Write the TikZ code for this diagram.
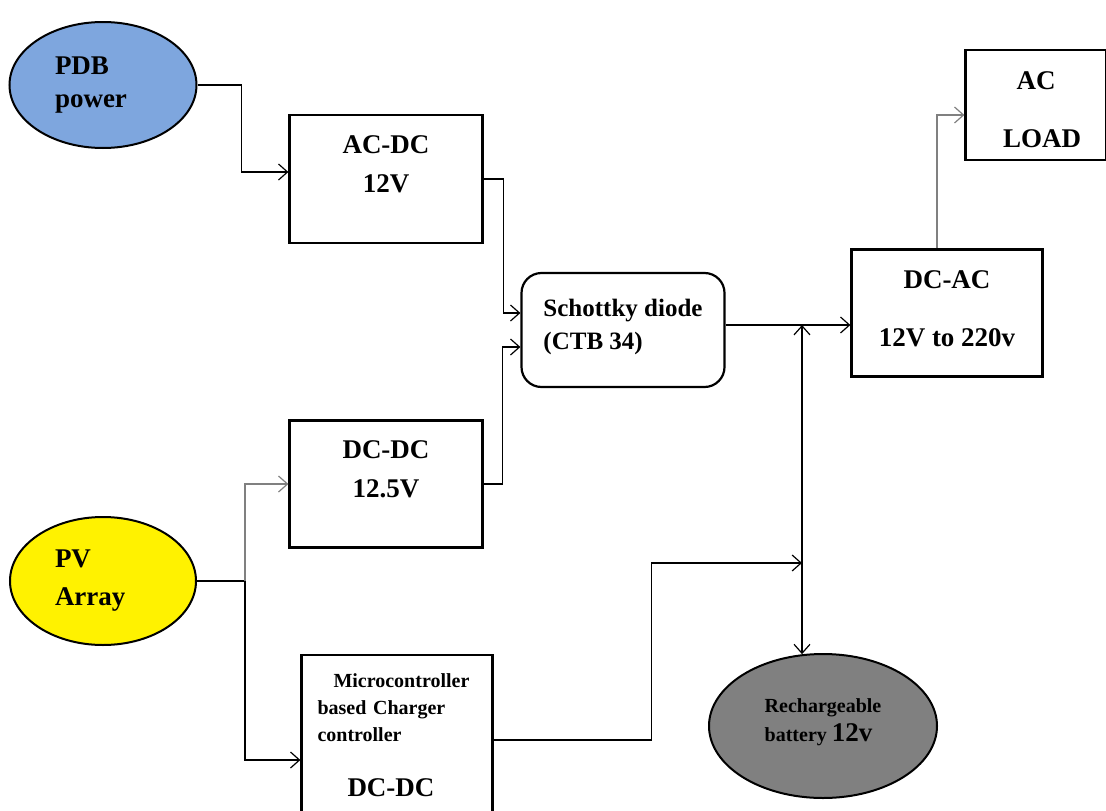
\documentclass[tikz,border=0pt]{standalone}
\usepackage{fontspec}
\setmainfont{Liberation Serif}
\usetikzlibrary{arrows.meta, positioning, shapes.geometric}

\definecolor{pdbblue}{RGB}{126,166,222}
\definecolor{pvyellow}{RGB}{255,242,0}
\definecolor{batgray}{RGB}{128,128,128}

\tikzset{
  blk/.style={draw, line width=2.2pt, inner sep=0pt, align=center, font=\bfseries\fontsize{27}{39}\selectfont},
  src/.style={ellipse, draw, line width=2pt, inner sep=0pt, font=\bfseries\fontsize{27}{37}\selectfont},
  barb/.tip={Straight Barb[length=9pt, width=16pt, line width=1.2pt]},
  conn/.style={line width=1.2pt, -barb},
  bus/.style={line width=1.2pt, barb-barb},
}

\begin{document}
\begin{tikzpicture}[x=1pt, y=-1pt]
  \useasboundingbox (0,0) rectangle (1106,811);
  % Sources
  \node[src, fill=pdbblue, minimum width=187pt, minimum height=126pt, text width=96pt, align=left, font=\bfseries\fontsize{27}{33}\selectfont] (pdb) at (103,85) {PDB\\power};
  \node[src, fill=pvyellow, minimum width=186pt, minimum height=128pt, text width=96pt, align=left, font=\bfseries\fontsize{27}{38}\selectfont] (pv) at (103,581) {PV\\Array};
  % Converters
  \node[blk, minimum width=193pt, minimum height=128pt, text depth=30pt] (acdc) at (386,179) {AC-DC\\12V};
  \node[blk, minimum width=193pt, minimum height=127pt, text depth=30pt] (dcdc) at (386,484) {DC-DC\\12.5V};
  \node[blk, minimum width=191pt, minimum height=160pt, text width=159pt, align=left, font=\bfseries\fontsize{20}{27}\selectfont] (mcu) at (397,735)
    {\hspace*{16pt}Microcontroller\\based Charger\\controller\\[28pt]\hspace*{30pt}{\fontsize{27}{30}\selectfont DC-DC}};
  \node[blk, rounded corners=20pt, minimum width=203pt, minimum height=114pt, text depth=12pt, align=left, font=\bfseries\fontsize{25}{33}\selectfont] (diode) at (623,330) {Schottky diode\\(CTB 34)};
  \node[blk, minimum width=191pt, minimum height=127pt, text depth=8pt, font=\bfseries\fontsize{27}{58}\selectfont] (dcac) at (947,313) {DC-AC\\12V to 220v};
  \node[blk, minimum width=141pt, minimum height=110pt, text height=85pt, font=\bfseries\fontsize{27}{58}\selectfont] (load) at (1036,105) {AC\\\hspace*{12pt}LOAD};
  % Storage
  \node[src, fill=batgray, minimum width=228pt, minimum height=144pt, text depth=12pt, align=left, font=\bfseries\fontsize{20}{29}\selectfont] (bat) at (823,726)
    {Rechargeable\\battery {\fontsize{27}{29}\selectfont 12v}};
  % Connections
  \coordinate (pvjn) at (245,581);
  \coordinate (batjn) at (802,563);
  \coordinate (busjn) at ([yshift=5pt]diode.east);
  \draw[conn] (pdb.east) -- ++(44,0) |- ([yshift=7pt]acdc.west);
  \draw[conn] (acdc.east) -- ++(20,0) |- ([yshift=17pt]diode.west);
  \draw[conn] (dcdc.east) -- ++(19,0) |- ([yshift=-17pt]diode.west);
  \draw[line width=1.2pt] (pv.east) -- (pvjn);
  \draw[conn, gray] (pvjn) |- (dcdc.west);
  \draw[conn] (pvjn) |- ([yshift=-25pt]mcu.west);
  \draw[conn] ([yshift=-5pt]mcu.east) -- ++(158,0) |- (batjn);
  \draw[conn] (busjn) -- (busjn -| dcac.west);
  \draw[bus] (batjn |- busjn) -- (batjn |- bat.106);
  \draw[conn, gray] ([xshift=-10pt]dcac.north) |- ([yshift=-10pt]load.west);
\end{tikzpicture}
\end{document}
